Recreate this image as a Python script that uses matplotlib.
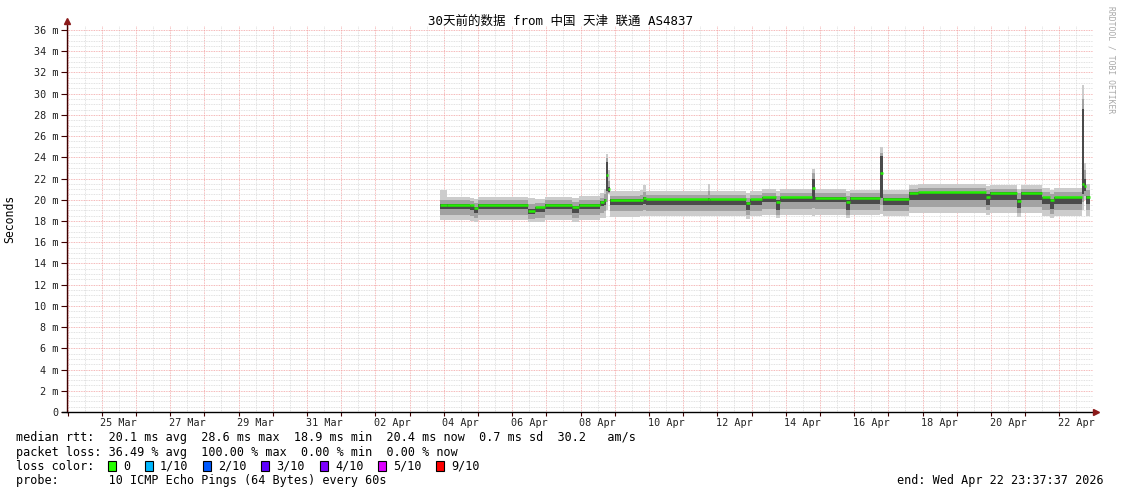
import matplotlib
matplotlib.use('Agg')
import matplotlib.pyplot as plt
import matplotlib.dates as mdates
from matplotlib.patches import Rectangle
from matplotlib.ticker import MultipleLocator, FuncFormatter
import pandas as pd

plt.rcParams['font.family'] = ['DejaVu Sans Mono', 'Noto Sans CJK SC']

W, H = 1121, 494
start = pd.Timestamp('2026-03-23 23:37:37')
end = pd.Timestamp('2026-04-22 23:37:37')

# sample breakpoints (step data), last entry closes the final step
times = [
    '2026-04-03 21:20', '2026-04-04 02:20', '2026-04-04 18:30', '2026-04-04 21:15',
    '2026-04-05 00:05', '2026-04-06 11:10', '2026-04-06 16:05', '2026-04-06 23:05',
    '2026-04-07 18:00', '2026-04-07 23:00', '2026-04-08 13:40', '2026-04-08 16:30',
    '2026-04-08 17:55', '2026-04-08 19:20', '2026-04-08 20:40', '2026-04-09 17:45',
    '2026-04-09 19:50', '2026-04-09 22:00', '2026-04-11 17:30', '2026-04-11 19:00',
    '2026-04-12 20:10', '2026-04-12 23:00', '2026-04-13 07:20', '2026-04-13 17:10',
    '2026-04-13 20:00', '2026-04-14 18:25', '2026-04-14 20:35', '2026-04-15 18:20',
    '2026-04-15 21:05', '2026-04-16 18:10', '2026-04-16 20:15', '2026-04-17 14:30',
    '2026-04-17 20:50', '2026-04-19 20:35', '2026-04-19 23:20', '2026-04-20 18:20',
    '2026-04-20 21:05', '2026-04-21 11:50', '2026-04-21 17:30', '2026-04-21 20:15',
    '2026-04-22 15:55', '2026-04-22 17:20', '2026-04-22 18:45', '2026-04-22 21:30',
]
median = [19.55, 19.55, 19.5, 19.2, 19.5, 18.9, 19.3, 19.55, 19.3, 19.55, 19.8, 20.0,
          22.3, 21.0, 19.95, 20.0, 20.2, 20.05, 20.05, 20.05, 19.7, 20.05, 20.25, 19.8,
          20.25, 21.1, 20.2, 19.8, 20.15, 22.5, 20.1, 20.6, 20.7, 20.3, 20.65, 19.9,
          20.6, 20.25, 19.95, 20.25, 21.5, 21.3, 20.3, 20.3]
smoke_lo = [18.1, 18.1, 18.0, 17.9, 18.1, 17.9, 17.9, 18.1, 17.9, 18.1, 18.3, 18.3,
            19.0, 20.5, 18.4, 18.5, 18.5, 18.5, 18.5, 18.5, 18.2, 18.5, 18.6, 18.3,
            18.6, 18.5, 18.6, 18.3, 18.6, 18.7, 18.5, 18.8, 18.8, 18.6, 18.8, 18.4,
            18.8, 18.5, 18.3, 18.5, 19.0, 20.0, 18.5, 18.5]
smoke_lo2 = [18.6, 18.6, 18.5, 18.3, 18.6, 18.2, 18.3, 18.6, 18.3, 18.6, 18.8, 18.9,
             19.8, 20.6, 18.9, 18.9, 19.0, 18.9, 18.9, 18.9, 18.6, 18.9, 19.1, 18.6,
             19.1, 19.2, 19.1, 18.6, 19.0, 19.5, 18.9, 19.3, 19.3, 19.0, 19.3, 18.8,
             19.3, 19.0, 18.7, 19.0, 19.8, 20.4, 19.0, 19.0]
smoke_lo3 = [19.15, 19.15, 19.05, 18.75, 19.15, 18.65, 18.85, 19.15, 18.75, 19.15, 19.45, 19.55,
             20.8, 20.7, 19.55, 19.55, 19.65, 19.55, 19.55, 19.55, 19.05, 19.55, 19.75, 19.05,
             19.75, 19.8, 19.75, 19.05, 19.65, 20.2, 19.55, 19.95, 19.95, 19.55, 19.95, 19.25,
             19.95, 19.65, 19.15, 19.65, 20.5, 20.8, 19.65, 19.65]
smoke_hi3 = [19.6, 19.6, 19.5, 19.3, 19.6, 19.1, 19.3, 19.6, 19.4, 19.6, 19.9, 20.1,
             23.6, 21.2, 20.05, 20.1, 20.3, 20.1, 20.2, 20.1, 19.8, 20.1, 20.3, 20.0,
             20.3, 22.0, 20.3, 20.0, 20.25, 24.1, 20.2, 20.7, 20.75, 20.5, 20.7, 20.1,
             20.7, 20.3, 20.1, 20.3, 28.6, 22.0, 20.4, 20.4]
smoke_hi2 = [19.95, 19.95, 19.9, 19.7, 19.95, 19.6, 19.7, 19.95, 19.8, 19.95, 20.2, 20.5,
             23.9, 21.8, 20.4, 20.45, 20.7, 20.45, 20.8, 20.45, 20.2, 20.45, 20.65, 20.4,
             20.65, 22.5, 20.65, 20.4, 20.6, 24.4, 20.55, 21.0, 21.1, 20.9, 21.0, 20.6,
             21.0, 20.7, 20.5, 20.7, 29.5, 22.8, 20.9, 20.9]
smoke_hi = [20.9, 20.3, 20.2, 20.1, 20.3, 20.2, 20.1, 20.3, 20.2, 20.4, 20.6, 21.0,
            24.3, 22.8, 20.8, 20.9, 21.4, 20.8, 21.5, 20.8, 20.6, 20.8, 21.0, 20.8,
            21.0, 22.9, 21.0, 20.8, 20.9, 25.0, 20.9, 21.4, 21.5, 21.3, 21.4, 21.0,
            21.4, 21.1, 20.9, 21.1, 30.8, 23.5, 21.5, 21.5]

title = '30天前的数据 from 中国 天津 联通 AS4837'
legend_lines = [
    'median rtt:  20.1 ms avg  28.6 ms max  18.9 ms min  20.4 ms now  0.7 ms sd  30.2   am/s',
    'packet loss: 36.49 % avg  100.00 % max  0.00 % min  0.00 % now',
    'loss color:',
    'probe:       10 ICMP Echo Pings (64 Bytes) every 60s',
]
loss_labels = ['0', '1/10', '2/10', '3/10', '4/10', '5/10', '9/10']
loss_colors = ['#26ff00', '#00b8ff', '#0059ff', '#5e00ff', '#7e00ff', '#dd00ff', '#ff0000']
end_label = 'end: Wed Apr 22 23:37:37 2026'


def fx(x):
    return x / W


def fy(y):
    return 1 - y / H


fig = plt.figure(figsize=(W / 100, H / 100), dpi=100)
ax = fig.add_axes([fx(67), fy(412), (1093 - 67) / W, (412 - 26) / H])

t = mdates.date2num(pd.to_datetime(times))

# smoke bands, lightest outside, darkest near the median
ax.fill_between(t, smoke_lo, smoke_hi, step='post', color='#cccccc', lw=0, zorder=2)
ax.fill_between(t, smoke_lo2, smoke_hi2, step='post', color='#a2a2a2', lw=0, zorder=3)
ax.fill_between(t, smoke_lo3, smoke_hi3, step='post', color='#4a4a4a', lw=0, zorder=4)
ax.hlines(median[:-1], t[:-1], t[1:], color='#22ee00', lw=1.8, zorder=5)

ax.set_xlim(start, end)
ax.set_ylim(0, 36.38)

ax.xaxis.set_major_locator(mdates.DayLocator())
ax.xaxis.set_minor_locator(mdates.HourLocator(byhour=12))
ax.xaxis.set_major_formatter(FuncFormatter(lambda v, p: ''))


def day_label(v, p):
    d = mdates.num2date(v)
    return d.strftime('%d %b') if d.timetuple().tm_yday % 2 == 0 else ''


ax.xaxis.set_minor_formatter(FuncFormatter(day_label))
ax.yaxis.set_major_locator(MultipleLocator(2))
ax.yaxis.set_minor_locator(MultipleLocator(0.5))
ax.yaxis.set_major_formatter(FuncFormatter(lambda v, p: '0' if v == 0 else f'{v:.0f} m'))

ax.tick_params(axis='x', which='major', direction='out', length=3, width=0.8, color='#400000')
ax.tick_params(axis='x', which='minor', length=0, pad=4, labelsize=7.3, labelcolor='#222222')
ax.tick_params(axis='y', which='major', direction='out', length=4, width=0.8, color='#400000',
               pad=2, labelsize=7.3, labelcolor='#222222')
ax.tick_params(axis='y', which='minor', length=0)

ax.set_axisbelow(True)
ax.grid(which='minor', color='#d8d8d8', ls=(0, (1, 1)), lw=0.6)
ax.grid(which='major', color='#f2a0a0', ls=(0, (1, 1)), lw=0.6)

for s in ['top', 'right', 'left', 'bottom']:
    ax.spines[s].set_visible(False)

# axes with arrow heads
ax.plot([0, 0], [0, 1.012], transform=ax.transAxes, color='#400000', lw=1, clip_on=False, zorder=6)
ax.plot([-0.005, 1.003], [0, 0], transform=ax.transAxes, color='#000000', lw=1, clip_on=False, zorder=6)
ax.plot(0, 1.012, marker='^', ms=4, color='#8b1a1a', transform=ax.transAxes, clip_on=False, zorder=7)
ax.plot(1.003, 0, marker='>', ms=4, color='#8b1a1a', transform=ax.transAxes, clip_on=False, zorder=7)

fig.text(fx(560), fy(21), title, ha='center', va='center', fontsize=9)
fig.text(fx(10), fy(219), 'Seconds', rotation=90, ha='center', va='center', fontsize=8.3)
fig.text(fx(1111), fy(60), 'RRDTOOL / TOBI OETIKER', rotation=270, ha='center', va='center',
         fontsize=5.8, color='#a8a8a8')

rows_y = [437, 452, 466, 480]
for line, y in zip(legend_lines, rows_y):
    fig.text(fx(16), fy(y), line, ha='left', va='center', fontsize=8.5)

box_x = [108, 145, 203, 261, 320, 378, 436]
label_x = [123, 160, 218, 276, 335, 393, 451]
for bx, lx, c, lab in zip(box_x, label_x, loss_colors, loss_labels):
    fig.patches.append(Rectangle((fx(bx), fy(471)), 8 / W, 10 / H, transform=fig.transFigure,
                                 facecolor=c, edgecolor='black', lw=0.8))
    fig.text(fx(lx), fy(466), lab, ha='left', va='center', fontsize=8.5)

fig.text(fx(1104), fy(480), end_label, ha='right', va='center', fontsize=8.5)

fig.savefig('out.png', dpi=100)
